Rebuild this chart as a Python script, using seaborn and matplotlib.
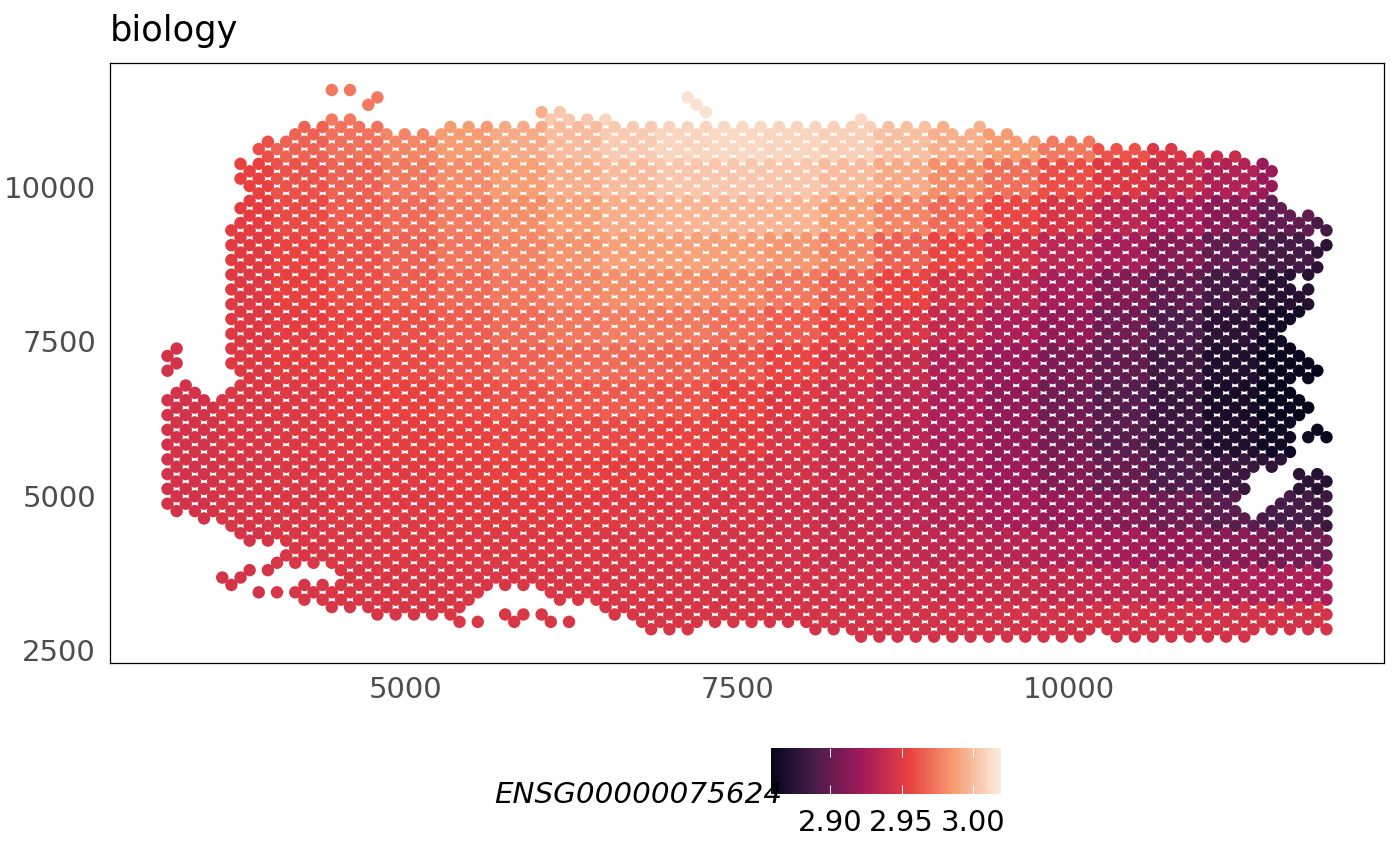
import matplotlib
matplotlib.use("Agg")
import matplotlib.pyplot as plt
from matplotlib.cm import ScalarMappable
from matplotlib.colors import LinearSegmentedColormap, Normalize
import pandas as pd
import seaborn as sns

TITLE = "biology"
LEGEND_TITLE = "ENSG00000075624"
X_TICKS = [5000, 7500, 10000]
Y_TICKS = [2500, 5000, 7500, 10000]
CBAR_TICKS = [2.90, 2.95, 3.00]
VALUE_MIN = 2.8587
VALUE_MAX = 3.0196
ROCKET_ANCHORS = ["#03051A", "#4C1D4B", "#A11A5B", "#E83F3F", "#F69C73", "#FAEBDD"]

# spot lattice, in data units
X_ORIGIN = 3200.0
X_STEP = 68.88
Y_ORIGIN = 11571.0
Y_STEP = -119.7

# for each lattice row: inclusive (first, last) column runs, every second column
ROW_RUNS = [
    [(18, 20)], [(23, 23), (57, 57)], [(22, 22), (58, 58)], [(41, 43), (59, 59)],
    [(18, 20), (42, 48), (76, 76)], [(15, 23), (31, 85), (89, 89)], [(14, 92)],
    [(11, 101)], [(10, 110)], [(11, 117)], [(8, 120)], [(9, 121)], [(8, 120)],
    [(9, 121)], [(10, 120)], [(9, 121)], [(8, 122)], [(9, 125)], [(8, 126)],
    [(7, 127)], [(8, 124)], [(7, 127)], [(8, 126)], [(7, 125)], [(8, 126)],
    [(7, 125)], [(8, 122)], [(7, 125)], [(8, 124)], [(7, 125)], [(8, 124)],
    [(7, 123)], [(8, 122)], [(7, 121)], [(8, 122)], [(1, 1), (7, 123)],
    [(0, 0), (8, 124)], [(1, 1), (7, 125)], [(0, 0), (8, 126)], [(9, 125)],
    [(2, 2), (8, 122)], [(1, 3), (7, 123)], [(0, 124)], [(1, 125)], [(0, 124)],
    [(1, 123)], [(0, 122), (126, 126)], [(1, 127)], [(0, 122)], [(1, 123)],
    [(0, 122)], [(1, 121)], [(0, 118), (124, 126)], [(1, 117), (125, 127)],
    [(0, 118), (124, 126)], [(1, 117), (123, 127)], [(0, 116), (122, 126)],
    [(1, 117), (121, 127)], [(4, 126)], [(7, 127)], [(8, 126)], [(9, 127)],
    [(14, 126)], [(13, 127)], [(12, 126)], [(9, 11), (19, 127)],
    [(6, 8), (20, 126)], [(7, 7), (15, 127)], [(10, 34), (42, 126)],
    [(15, 33), (43, 127)], [(18, 32), (48, 126)],
    [(23, 31), (37, 41), (49, 127)],
    [(32, 34), (38, 38), (42, 44), (52, 126)], [(53, 57), (71, 127)],
    [(76, 100), (104, 118)],
]

# expression: one line per 5 lattice rows, one entry per 6 columns
ROWS_PER_BAND = 5
COLS_PER_BAND = 6
VALUE_BANDS = [
    [2.960, 2.965, 2.970, 2.975, 2.980, 2.990, 2.995, 3.005, 3.010, 3.016, 3.014, 3.010, 3.012, 3.005, 2.998, 2.990, 2.980, 2.965, 2.950, 2.940, 2.930, 2.920],
    [2.955, 2.960, 2.968, 2.973, 2.980, 2.987, 2.993, 3.000, 3.006, 3.010, 3.012, 3.010, 3.008, 3.002, 2.995, 2.987, 2.975, 2.962, 2.948, 2.940, 2.925, 2.915],
    [2.950, 2.955, 2.962, 2.968, 2.975, 2.982, 2.988, 2.995, 3.000, 3.004, 3.005, 3.004, 3.000, 2.993, 2.983, 2.972, 2.960, 2.950, 2.940, 2.930, 2.920, 2.905],
    [2.950, 2.953, 2.959, 2.965, 2.971, 2.977, 2.983, 2.989, 2.994, 2.997, 2.998, 2.997, 2.990, 2.980, 2.970, 2.958, 2.947, 2.935, 2.927, 2.915, 2.900, 2.888],
    [2.950, 2.952, 2.957, 2.962, 2.968, 2.974, 2.980, 2.985, 2.989, 2.990, 2.989, 2.986, 2.980, 2.968, 2.957, 2.945, 2.935, 2.926, 2.913, 2.900, 2.888, 2.878],
    [2.950, 2.951, 2.955, 2.960, 2.965, 2.970, 2.975, 2.980, 2.983, 2.983, 2.981, 2.975, 2.968, 2.957, 2.946, 2.936, 2.926, 2.912, 2.900, 2.888, 2.875, 2.870],
    [2.948, 2.950, 2.953, 2.957, 2.961, 2.966, 2.971, 2.975, 2.977, 2.976, 2.973, 2.966, 2.958, 2.948, 2.938, 2.928, 2.918, 2.905, 2.892, 2.878, 2.866, 2.862],
    [2.945, 2.950, 2.953, 2.956, 2.959, 2.963, 2.967, 2.970, 2.971, 2.969, 2.964, 2.957, 2.949, 2.940, 2.930, 2.921, 2.910, 2.899, 2.886, 2.873, 2.862, 2.858],
    [2.945, 2.949, 2.951, 2.953, 2.956, 2.959, 2.962, 2.964, 2.965, 2.963, 2.958, 2.951, 2.944, 2.936, 2.928, 2.917, 2.905, 2.895, 2.883, 2.870, 2.861, 2.860],
    [2.945, 2.948, 2.950, 2.952, 2.954, 2.956, 2.958, 2.959, 2.959, 2.957, 2.954, 2.948, 2.941, 2.934, 2.928, 2.918, 2.907, 2.896, 2.885, 2.873, 2.865, 2.862],
    [2.945, 2.947, 2.949, 2.951, 2.952, 2.954, 2.955, 2.955, 2.954, 2.952, 2.949, 2.945, 2.940, 2.934, 2.929, 2.921, 2.912, 2.902, 2.892, 2.884, 2.877, 2.875],
    [2.945, 2.947, 2.948, 2.950, 2.951, 2.952, 2.952, 2.952, 2.951, 2.949, 2.947, 2.943, 2.939, 2.935, 2.931, 2.927, 2.920, 2.913, 2.905, 2.897, 2.889, 2.885],
    [2.945, 2.946, 2.948, 2.949, 2.950, 2.950, 2.950, 2.950, 2.949, 2.948, 2.946, 2.944, 2.941, 2.938, 2.936, 2.933, 2.930, 2.925, 2.920, 2.915, 2.908, 2.904],
    [2.945, 2.946, 2.947, 2.948, 2.948, 2.948, 2.948, 2.948, 2.948, 2.947, 2.946, 2.945, 2.944, 2.943, 2.941, 2.940, 2.938, 2.936, 2.933, 2.930, 2.928, 2.926],
    [2.946, 2.946, 2.947, 2.947, 2.947, 2.948, 2.948, 2.948, 2.947, 2.947, 2.947, 2.946, 2.946, 2.945, 2.945, 2.945, 2.945, 2.945, 2.945, 2.945, 2.945, 2.946],
]

records = []
for row, runs in enumerate(ROW_RUNS):
    for first, last in runs:
        for col in range(first, last + 1, 2):
            records.append(
                {
                    "x": X_ORIGIN + col * X_STEP,
                    "y": Y_ORIGIN + row * Y_STEP,
                    "value": VALUE_BANDS[row // ROWS_PER_BAND][col // COLS_PER_BAND],
                }
            )
spots = pd.DataFrame(records)

sns.set_style("white")
plt.rcParams["font.family"] = ["DejaVu Sans"]

W, H = 1400, 866
fig = plt.figure(figsize=(W / 100, H / 100), dpi=100)
ax = fig.add_axes([110 / W, 1 - 663 / H, (1384 - 110) / W, (663 - 63) / H])

cmap = LinearSegmentedColormap.from_list("rocket6", ROCKET_ANCHORS, N=256)
norm = Normalize(VALUE_MIN, VALUE_MAX)

sns.scatterplot(
    data=spots, x="x", y="y", hue="value", palette=cmap, hue_norm=norm,
    s=80, linewidth=0, legend=False, ax=ax,
)

ax.set_xlim(2766, 12382)
ax.set_ylim(2286, 12009)
ax.set_xticks(X_TICKS)
ax.set_yticks(Y_TICKS)
ax.set_xlabel("")
ax.set_ylabel("")
ax.tick_params(axis="both", length=0, labelsize=21, labelcolor="#4d4d4d")
ax.tick_params(axis="x", pad=9)
ax.tick_params(axis="y", pad=10)
for spine in ax.spines.values():
    spine.set_visible(True)
    spine.set_color("black")
    spine.set_linewidth(0.9)
ax.set_title(TITLE, loc="left", fontsize=25.4, color="black", pad=16)

cax = fig.add_axes([771 / W, 1 - 794 / H, (1001 - 771) / W, (794 - 748) / H])
cbar = fig.colorbar(ScalarMappable(norm=norm, cmap=cmap), cax=cax, orientation="horizontal")
cbar.outline.set_visible(False)
cbar.solids.set_edgecolor("face")
cbar.solids.set_rasterized(False)
cbar.set_ticks(CBAR_TICKS)
cbar.set_ticklabels([f"{t:.2f}" for t in CBAR_TICKS])
cax.set_axisbelow(False)
cax.tick_params(axis="x", direction="in", length=6.6, width=0.7, color="white",
                top=True, bottom=True, labelsize=21, labelcolor="black", pad=11)

fig.text(494 / W, 1 - 803 / H, LEGEND_TITLE, fontsize=21.2, style="italic", color="black",
         ha="left", va="baseline")

fig.savefig("out.png", dpi=100, facecolor="white")
